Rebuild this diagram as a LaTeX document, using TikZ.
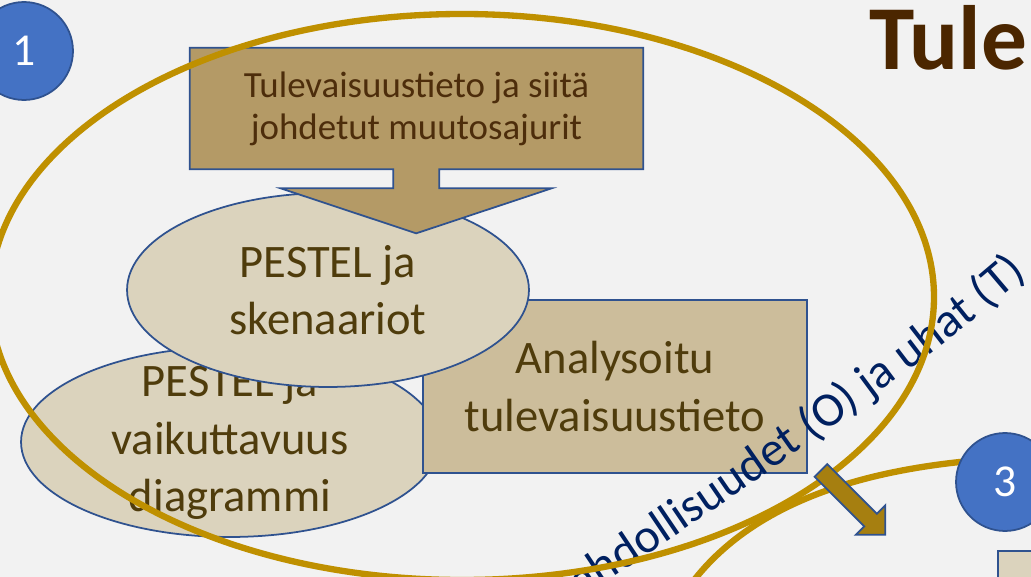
\documentclass[tikz,border=0pt]{standalone}
\usepackage{fontspec}
\setmainfont{Carlito}
\usetikzlibrary{shapes.geometric,shapes.arrows,decorations.text}

\definecolor{slidebg}{HTML}{F2F2F2}
\definecolor{edgeblue}{HTML}{2F528F}
\definecolor{numblue}{HTML}{4472C4}
\definecolor{ringgold}{HTML}{BF9000}
\definecolor{arrowgold}{HTML}{A67F10}
\definecolor{darktan}{HTML}{B49A66}
\definecolor{midtan}{HTML}{CCBD9B}
\definecolor{lighttan}{HTML}{DBD3BD}
\definecolor{olivetext}{HTML}{4F3C0C}
\definecolor{drivertext}{HTML}{4D2D0B}
\definecolor{titlebrown}{HTML}{4B2600}
\definecolor{swotnavy}{HTML}{002060}

\tikzstyle{oval} = [ellipse, draw=edgeblue, line width=1pt, fill=lighttan, inner sep=0pt, text=olivetext, align=center, font=\fontsize{26.5}{32.5}\selectfont]
\tikzstyle{ovaltext} = [text=olivetext, align=center, inner sep=0pt, font=\fontsize{26.5}{32.5}\selectfont]
\tikzstyle{block} = [rectangle, draw=edgeblue, line width=1pt, fill=midtan, text=olivetext, align=center, font=\fontsize{26.5}{32.5}\selectfont]
\tikzstyle{callbox} = [rectangle, fill=darktan, minimum width=9.06cm, minimum height=2.42cm, text=drivertext, align=center, font=\fontsize{21}{24}\selectfont]
\tikzstyle{num} = [circle, draw=edgeblue, line width=1pt, fill=numblue, text=white, minimum size=1.96cm, inner sep=0pt, font=\fontsize{26}{30}\selectfont]
\tikzstyle{ring} = [draw=ringgold, line width=3.6pt]
\tikzstyle{rim} = [draw=edgeblue, line width=1pt]

\begin{document}
\begin{tikzpicture}[x=0.02cm, y=-0.02cm]
\useasboundingbox (0,0) rectangle (1031,577);
\fill[slidebg] (0,0) rectangle (1031,577);
\clip (0,0) rectangle (1031,577);

\node[oval, minimum width=8.36cm, minimum height=3.8cm,
  label={[ovaltext]center:{PESTEL ja\\vaikuttavuus\\diagrammi}}] (impact) at (230,442) {};
\node[block, minimum width=7.68cm, minimum height=3.46cm] (analysed) at (615,386.5) {Analysoitu\\tulevaisuustieto};
\node[oval, minimum width=8.04cm, minimum height=3.88cm] (scenarios) at (328,290) {PESTEL ja\\skenaariot};

% callout with the arrow down
\node[callbox] (drivers) at (416.5,108.5) {Tulevaisuustieto ja siitä\\johdetut muutosajurit};
\fill[darktan] (drivers.south) ++(-23,-1) -- ++(0,20) -- ++(-112.5,0) -- ++(135.5,45)
  -- ++(135.5,-45) -- ++(-112.5,0) -- ++(0,-20) -- cycle;
\draw[rim] (drivers.south east) -- (drivers.north east) -- (drivers.north west)
  -- (drivers.south west) -- ++(203.5,0) -- ++(0,19) -- ++(-112.5,0) -- ++(135.5,45)
  -- ++(135.5,-45) -- ++(-112.5,0) -- ++(0,-19) -- cycle;

\node[rectangle, draw=edgeblue, line width=1pt, fill=lighttan, anchor=north west,
  minimum width=2cm, minimum height=1cm] (next) at (997,550) {};

\path[decorate, decoration={text along path, text align=left,
  text={|\fontsize{27.5}{32}\selectfont\color{swotnavy}|Mahdollisuudet (O) ja uhat (T)}}]
  (547,621) .. controls (773,474) and (960,339) .. (1050,254);

\draw[ring] (462,297) ellipse [x radius=472, y radius=283];
\draw[ring] (1010,458) .. controls (860,466) and (740,505) .. (680,600);

\node[single arrow, draw=edgeblue, line width=1pt, fill=arrowgold, minimum height=1.82cm,
  inner sep=0.16cm, single arrow head extend=0.24cm, rotate=-45] (hint) at (850,499.5) {};

\node[num] (one) at (24,51) {1};
\node[num] (three) at (1005,482) {3};

\node[anchor=base west, inner sep=0pt, text=titlebrown,
  font=\fontsize{52}{58}\selectfont\bfseries] (title) at (869,70) {Tule};
\end{tikzpicture}
\end{document}
